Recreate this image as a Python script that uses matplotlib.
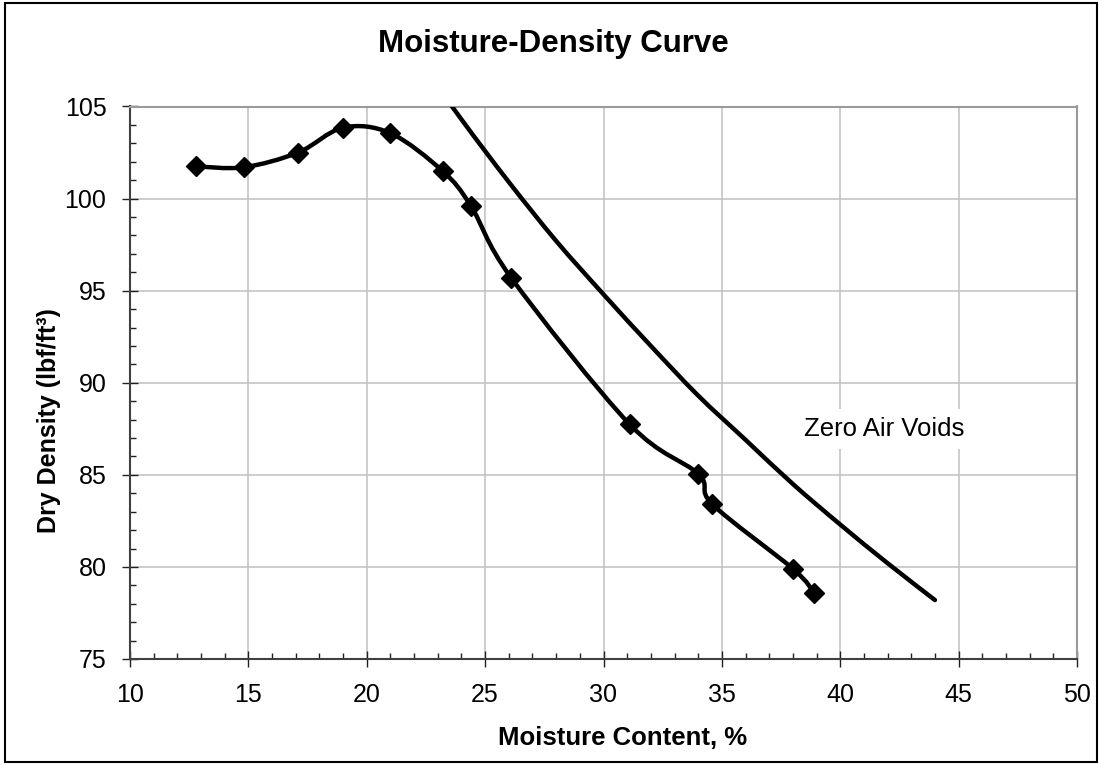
import matplotlib
matplotlib.use("Agg")
import matplotlib.pyplot as plt
from matplotlib.path import Path
from matplotlib.patches import PathPatch, Rectangle
from matplotlib.ticker import MultipleLocator
import numpy as np

plt.rcParams['font.family'] = ['Liberation Sans', 'DejaVu Sans']

# Measured compaction points
moisture = [12.8, 14.8, 17.1, 19.0, 21.0, 23.2, 24.4, 26.1, 31.1, 34.0, 34.6, 38.0, 38.9]
dry_density = [101.75, 101.7, 102.5, 103.85, 103.55, 101.5, 99.6, 95.7, 87.75, 85.05, 83.4, 79.9, 78.6]

# Zero air voids curve
zav_moisture = [20, 22, 24, 26, 28, 30, 32, 34, 36, 38, 40, 42, 44]
zav_density = [111.7, 107.9, 104.3, 100.9, 97.7, 94.8, 92.0, 89.3, 86.9, 84.5, 82.3, 80.2, 78.2]
zav_label = "Zero Air Voids"

title = "Moisture-Density Curve"
xlabel = "Moisture Content, %"
ylabel = "Dry Density (lbf/ft³)"
x_ticks = [10, 15, 20, 25, 30, 35, 40, 45, 50]
y_ticks = [75, 80, 85, 90, 95, 100, 105]


def smooth_path(xs, ys):
    pts = np.column_stack([xs, ys]).astype(float)
    n = len(pts)
    verts = [pts[0]]
    codes = [Path.MOVETO]
    for i in range(n - 1):
        p0 = pts[i - 1] if i > 0 else pts[i]
        p1 = pts[i]
        p2 = pts[i + 1]
        p3 = pts[i + 2] if i + 2 < n else pts[i + 1]
        c1 = p1 + (p2 - p0) / 6.0
        c2 = p2 - (p3 - p1) / 6.0
        verts += [c1, c2, p2]
        codes += [Path.CURVE4] * 3
    return Path(verts, codes)


fig = plt.figure(figsize=(11, 7.65), dpi=100)
ax = fig.add_axes([130 / 1100, 1 - 659 / 765, (1077 - 130) / 1100, (659 - 106.5) / 765])

ax.set_xlim(10, 50)
ax.set_ylim(75, 105)
ax.set_xticks(x_ticks)
ax.set_yticks(y_ticks)
ax.xaxis.set_minor_locator(MultipleLocator(1))
ax.yaxis.set_minor_locator(MultipleLocator(1))
ax.grid(True, which='major', color='#c0c0c0', linewidth=1.1)
ax.set_axisbelow(True)

ax.tick_params(axis='both', which='major', direction='inout', length=11, width=1.0,
               color='#202020', labelsize=18, pad=11.5)
ax.tick_params(axis='both', which='minor', direction='in', length=4, width=1.0, color='#202020')

for s in ['left', 'bottom']:
    ax.spines[s].set_color('#404040')
    ax.spines[s].set_linewidth(1.5)
for s in ['top', 'right']:
    ax.spines[s].set_color('#9a9a9a')
    ax.spines[s].set_linewidth(1.5)

# Smooth lines
ax.add_patch(PathPatch(smooth_path(moisture, dry_density), facecolor='none',
                       edgecolor='black', linewidth=3.2, zorder=3, capstyle='round'))
ax.add_patch(PathPatch(smooth_path(zav_moisture, zav_density), facecolor='none',
                       edgecolor='black', linewidth=3.2, zorder=3, capstyle='round'))
ax.plot(moisture, dry_density, linestyle='none', marker='D', markersize=10,
        color='black', zorder=4)

ax.text(38.45, 87.5, zav_label, fontsize=18.5, ha='left', va='center', zorder=5,
        bbox=dict(facecolor='white', edgecolor='none', pad=6))

fig.text(553 / 1100, 1 - 52 / 765, title, fontsize=22.5, fontweight='bold',
         ha='center', va='baseline')
fig.text(623 / 1100, 1 - 745 / 765, xlabel, fontsize=18.5, fontweight='bold',
         ha='center', va='baseline')
fig.text(56 / 1100, 1 - 421 / 765, ylabel, fontsize=18, fontweight='bold',
         ha='center', va='baseline', rotation=90, rotation_mode='anchor')

fig.add_artist(Rectangle((5 / 1100, 3 / 765), (1097 - 5) / 1100, (762 - 3) / 765,
                         transform=fig.transFigure, fill=False, edgecolor='black',
                         linewidth=1.5))

fig.savefig('out.png', dpi=100)
